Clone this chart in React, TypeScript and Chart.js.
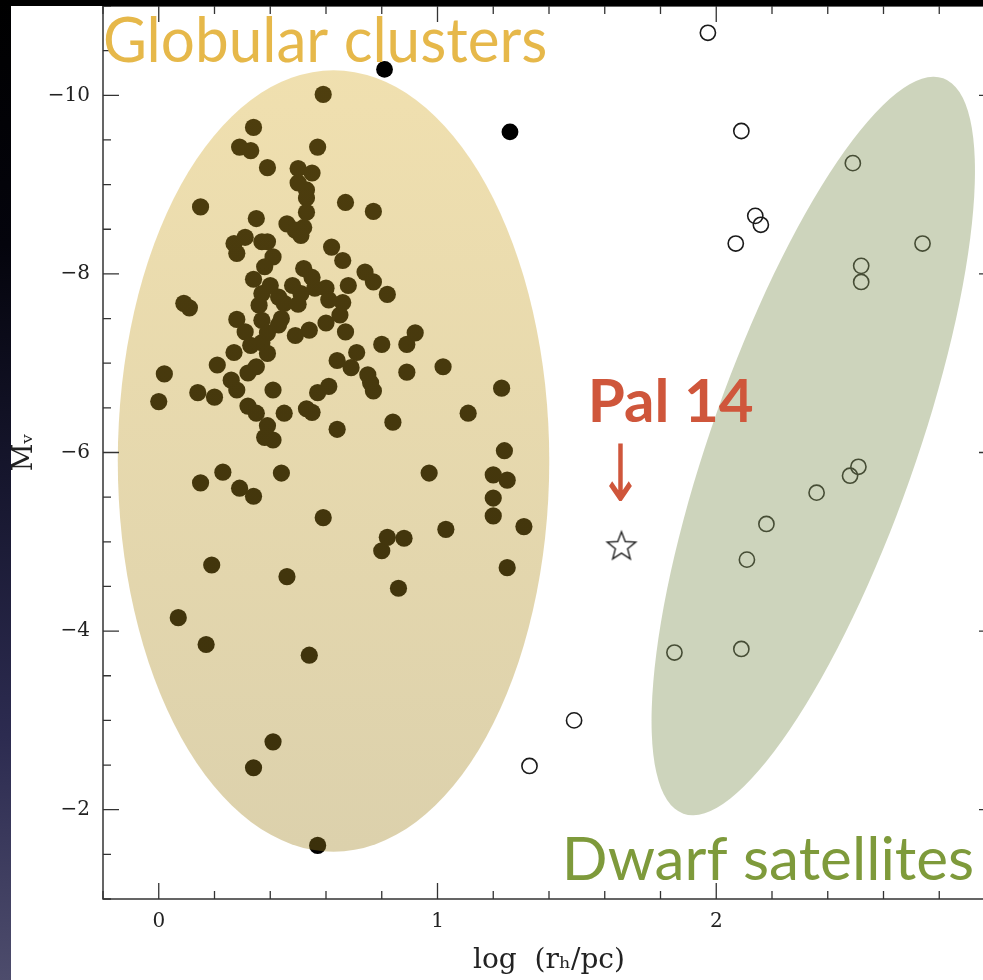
import React, { useEffect, useRef } from 'react';
import { Chart, registerables } from 'chart.js';

Chart.register(...registerables);

// ---------------- data ----------------
// Globular clusters (log r_h [pc], M_V)
const globularClusters: [number, number][] = [
  [0.59, -10.01], [0.34, -9.64], [0.29, -9.42], [0.33, -9.38], [0.57, -9.42],
  [0.39, -9.19], [0.50, -9.18], [0.55, -9.13], [0.50, -9.02], [0.53, -8.94],
  [0.53, -8.85], [0.53, -8.69], [0.15, -8.75], [0.67, -8.80], [0.77, -8.70],
  [0.35, -8.62], [0.46, -8.56], [0.49, -8.49], [0.52, -8.52], [0.51, -8.43],
  [0.27, -8.34], [0.31, -8.41], [0.28, -8.23], [0.37, -8.36], [0.39, -8.36],
  [0.41, -8.19], [0.38, -8.08], [0.62, -8.30], [0.66, -8.15], [0.34, -7.94],
  [0.52, -8.06], [0.55, -7.96], [0.74, -8.02], [0.77, -7.91], [0.82, -7.77],
  [0.40, -7.87], [0.37, -7.78], [0.43, -7.74], [0.48, -7.87], [0.51, -7.78],
  [0.56, -7.84], [0.60, -7.84], [0.68, -7.87], [0.45, -7.67], [0.09, -7.67],
  [0.11, -7.62], [0.36, -7.65], [0.66, -7.68], [0.61, -7.71], [0.50, -7.66],
  [0.28, -7.49], [0.37, -7.48], [0.44, -7.50], [0.43, -7.43], [0.60, -7.45],
  [0.65, -7.54], [0.54, -7.37],
  [0.31, -7.35], [0.39, -7.34], [0.49, -7.31], [0.67, -7.35], [0.33, -7.20],
  [0.37, -7.23], [0.39, -7.11], [0.27, -7.12], [0.71, -7.12], [0.21, -6.98],
  [0.35, -6.96], [0.32, -6.89], [0.02, -6.88], [0.26, -6.81], [0.28, -6.70],
  [0.14, -6.67], [0.20, -6.62], [0.00, -6.57], [0.41, -6.70], [0.32, -6.52],
  [0.35, -6.44], [0.45, -6.44], [0.39, -6.30], [0.38, -6.17], [0.41, -6.14],
  [0.53, -6.49], [0.55, -6.45], [0.57, -6.67], [0.61, -6.74], [0.64, -6.26],
  [0.64, -7.03], [0.69, -6.95], [0.75, -6.87], [0.76, -6.78], [0.77, -6.69],
  [0.80, -7.21], [0.89, -7.21], [0.92, -7.34], [0.89, -6.90], [1.02, -6.96],
  [0.84, -6.34], [1.11, -6.44], [1.23, -6.72], [1.24, -6.02],
  [1.20, -5.75], [1.25, -5.69], [1.20, -5.49], [1.20, -5.29], [1.31, -5.17],
  [1.25, -4.71], [1.03, -5.14], [0.97, -5.77], [0.82, -5.05], [0.88, -5.04],
  [0.80, -4.90], [0.86, -4.48], [0.59, -5.27], [0.44, -5.77], [0.23, -5.78],
  [0.15, -5.66], [0.29, -5.60], [0.34, -5.51], [0.19, -4.74], [0.46, -4.61],
  [0.07, -4.15], [0.17, -3.85], [0.54, -3.73], [0.41, -2.76], [0.34, -2.47],
  [0.57, -1.60],
];

// Two extended clusters outside the shaded region
const extendedClusters: [number, number][] = [
  [0.81, -10.29], [1.26, -9.59],
];

// Dwarf satellite galaxies (open circles)
const dwarfSatellites: [number, number][] = [
  [1.97, -10.70], [2.09, -9.60], [2.14, -8.65], [2.16, -8.55], [2.07, -8.34],
  [2.49, -9.24], [2.74, -8.34], [2.52, -8.09], [2.52, -7.91], [2.51, -5.84],
  [2.48, -5.74], [2.36, -5.55], [2.18, -5.20], [2.11, -4.80], [1.85, -3.76],
  [2.09, -3.80], [1.49, -3.00], [1.33, -2.49],
];

// Palomar 14
const pal14: [number, number][] = [[1.66, -4.95]];

const xTickLabels = [0, 1, 2];
const yTickLabels = [-10, -8, -6, -4, -2];
const X_MIN = -0.2, X_MAX = 3.0, X_MINOR = 0.2;
const Y_MIN = -11, Y_MAX = -1, Y_MINOR = 0.5;

// shaded regions, in data units
const gcRegion = { cx: 0.627, cy: -5.905, rx: 0.774, ry: 4.375 };
const dwarfRegion = { cx: 2.348, cy: -6.073, tipX: 2.814, tipY: -10.19, ratio: 0.262 };

// annotation texts (pixel boxes)
const annotations = [
  { text: 'Globular clusters', font: '58px Lato', color: '#E6B84A', x0: 105, x1: 545, y0: 16, y1: 62 },
  { text: 'Dwarf satellites', font: '58px Lato', color: '#7E9A3B', x0: 567, x1: 972, y0: 835, y1: 880 },
  { text: 'Pal 14', font: 'bold 58px Lato', color: '#CF563B', x0: 592, x1: 753, y0: 378, y1: 422 },
  { text: '\u2193', font: '60px "DejaVu Sans"', color: '#CF563B', x0: 609, x1: 633, y0: 443, y1: 502 },
];

const toPts = (arr: [number, number][]) => arr.map(([x, y]) => ({ x, y }));

function makeStar(): HTMLCanvasElement {
  const c = document.createElement('canvas');
  c.width = 36; c.height = 36;
  const g = c.getContext('2d')!;
  const R = 15, r = 6.4, cx = 18, cy = 18.5;
  g.beginPath();
  for (let i = 0; i < 10; i++) {
    const rad = i % 2 === 0 ? R : r;
    const a = -Math.PI / 2 + (i * Math.PI) / 5;
    const px = cx + rad * Math.cos(a), py = cy + rad * Math.sin(a);
    if (i === 0) g.moveTo(px, py); else g.lineTo(px, py);
  }
  g.closePath();
  g.lineWidth = 1.4;
  g.strokeStyle = '#222';
  g.lineJoin = 'miter';
  g.stroke();
  return c;
}

function fitText(ctx: CanvasRenderingContext2D, a: typeof annotations[number]) {
  ctx.save();
  ctx.font = a.font;
  ctx.textAlign = 'left';
  ctx.textBaseline = 'alphabetic';
  const m = ctx.measureText(a.text);
  const w = m.actualBoundingBoxLeft + m.actualBoundingBoxRight;
  const h = m.actualBoundingBoxAscent + m.actualBoundingBoxDescent;
  const sx = (a.x1 - a.x0) / w;
  const sy = (a.y1 - a.y0) / h;
  ctx.translate(a.x0, a.y0);
  ctx.scale(sx, sy);
  ctx.fillStyle = a.color;
  ctx.fillText(a.text, m.actualBoundingBoxLeft, m.actualBoundingBoxAscent);
  ctx.restore();
}

const decorPlugin = {
  id: 'decor',
  beforeDraw(chart: any) {
    const c = chart.ctx;
    c.save();
    c.fillStyle = '#ffffff';
    c.fillRect(0, 0, chart.width, chart.height);
    c.restore();
  },
  afterDatasetsDraw(chart: any) {
    const c = chart.ctx as CanvasRenderingContext2D;
    const xs = chart.scales.x, ys = chart.scales.y;
    // globular cluster region
    const cx = xs.getPixelForValue(gcRegion.cx);
    const cy = ys.getPixelForValue(gcRegion.cy);
    const rx = Math.abs(xs.getPixelForValue(gcRegion.cx + gcRegion.rx) - cx);
    const ry = Math.abs(ys.getPixelForValue(gcRegion.cy + gcRegion.ry) - cy);
    c.save();
    const grad = c.createLinearGradient(0, cy - ry, 0, cy + ry);
    grad.addColorStop(0, 'rgba(214,170,38,0.37)');
    grad.addColorStop(1, 'rgba(160,130,30,0.37)');
    c.fillStyle = grad;
    c.beginPath();
    c.ellipse(cx, cy, rx, ry, 0, 0, Math.PI * 2);
    c.fill();
    c.restore();
    // dwarf satellite region
    const dx0 = xs.getPixelForValue(dwarfRegion.cx);
    const dy0 = ys.getPixelForValue(dwarfRegion.cy);
    const tx = xs.getPixelForValue(dwarfRegion.tipX);
    const ty = ys.getPixelForValue(dwarfRegion.tipY);
    const A = Math.hypot(tx - dx0, ty - dy0);
    const B = A * dwarfRegion.ratio;
    const theta = Math.atan2(tx - dx0, -(ty - dy0));
    c.save();
    c.translate(dx0, dy0);
    c.rotate(theta);
    c.fillStyle = 'rgba(134,151,93,0.41)';
    c.beginPath();
    c.ellipse(0, 0, B, A, 0, 0, Math.PI * 2);
    c.fill();
    c.restore();
  },
  afterDraw(chart: any) {
    const c = chart.ctx as CanvasRenderingContext2D;
    const xs = chart.scales.x, ys = chart.scales.y;
    const { left, right, top, bottom } = chart.chartArea;
    c.save();
    c.strokeStyle = '#333';
    c.lineWidth = 1.5;
    c.strokeRect(left, top, right - left, bottom - top);
    c.lineWidth = 1.3;
    c.beginPath();
    const nx = Math.round((X_MAX - X_MIN) / X_MINOR);
    for (let i = 0; i <= nx; i++) {
      const v = X_MIN + i * X_MINOR;
      const major = Math.abs(v - Math.round(v)) < 1e-6;
      const len = major ? 16 : 8;
      const px = xs.getPixelForValue(v);
      c.moveTo(px, bottom); c.lineTo(px, bottom - len);
      c.moveTo(px, top); c.lineTo(px, top + len);
    }
    const ny = Math.round((Y_MAX - Y_MIN) / Y_MINOR);
    for (let i = 0; i <= ny; i++) {
      const v = Y_MIN + i * Y_MINOR;
      const major = Math.abs(v / 2 - Math.round(v / 2)) < 1e-6;
      const len = major ? 16 : 8;
      const py = ys.getPixelForValue(v);
      c.moveTo(left, py); c.lineTo(left + len, py);
      c.moveTo(right, py); c.lineTo(right - len, py);
    }
    c.stroke();
    c.restore();

    annotations.forEach((a) => fitText(c, a));

    // slide frame: black top bar and dark left strip
    c.save();
    c.fillStyle = '#000';
    c.fillRect(0, 0, chart.width, 6);
    const g = c.createLinearGradient(0, 0, 0, chart.height);
    g.addColorStop(0, '#000000');
    g.addColorStop(0.25, '#04040c');
    g.addColorStop(0.5, '#17172f');
    g.addColorStop(0.75, '#2c2b50');
    g.addColorStop(1, '#4d4c6c');
    c.fillStyle = g;
    c.fillRect(0, 0, 11, chart.height);
    c.restore();
  },
};

export default function App() {
  const ref = useRef<HTMLCanvasElement | null>(null);
  useEffect(() => {
    if (!ref.current) return;
    const star = makeStar();
    const serif = 'DejaVu Serif';
    const chart = new Chart(ref.current, {
      type: 'scatter',
      data: {
        datasets: [
          {
            label: 'Globular clusters',
            data: toPts(globularClusters),
            pointRadius: 8.6,
            pointBackgroundColor: '#000',
            pointBorderWidth: 0,
          },
          {
            label: 'Extended clusters',
            data: toPts(extendedClusters),
            pointRadius: 8.4,
            pointBackgroundColor: '#000',
            pointBorderWidth: 0,
          },
          {
            label: 'Dwarf satellites',
            data: toPts(dwarfSatellites),
            pointRadius: 7.6,
            pointBackgroundColor: 'rgba(0,0,0,0)',
            pointBorderColor: '#1a1a1a',
            pointBorderWidth: 1.6,
          },
          {
            label: 'Pal 14',
            data: toPts(pal14),
            pointStyle: star as any,
            pointRadius: 15,
          },
        ],
      },
      options: {
        animation: false,
        responsive: false,
        layout: { autoPadding: false, padding: { top: 6, right: 5, left: 0, bottom: 0 } },
        plugins: { legend: { display: false }, tooltip: { enabled: false } },
        scales: {
          x: {
            type: 'linear',
            min: X_MIN,
            max: X_MAX,
            grid: { display: false, drawTicks: false },
            border: { display: false },
            ticks: {
              font: { family: serif, size: 20 },
              color: '#222',
              padding: 11,
              maxRotation: 0,
              autoSkip: false,
            },
            afterBuildTicks: (s: any) => { s.ticks = xTickLabels.map((v) => ({ value: v })); },
            afterFit: (s: any) => {
              s.height = 81;
              s.paddingLeft = 0; s.paddingRight = 0; s.paddingTop = 0; s.paddingBottom = 0;
            },
            title: {
              display: true,
              text: 'log  (r\u2095/pc)',
              font: { family: serif, size: 28 },
              color: '#222',
              padding: { top: 0, bottom: 2 },
            },
          },
          y: {
            type: 'linear',
            reverse: true,
            min: Y_MIN,
            max: Y_MAX,
            grid: { display: false, drawTicks: false },
            border: { display: false },
            ticks: {
              font: { family: serif, size: 20 },
              color: '#222',
              padding: 13,
              callback: (v: any) => (v < 0 ? '\u2212' + Math.abs(v) : String(v)),
            },
            afterBuildTicks: (s: any) => { s.ticks = yTickLabels.map((v) => ({ value: v })); },
            afterFit: (s: any) => {
              s.width = 103;
              s.paddingLeft = 0; s.paddingRight = 0; s.paddingTop = 0; s.paddingBottom = 0;
            },
            title: {
              display: true,
              text: 'M\u1D65',
              font: { family: serif, size: 27 },
              color: '#222',
              padding: { top: 9, bottom: 0 },
            },
          },
        },
      },
      plugins: [decorPlugin],
    });
    return () => chart.destroy();
  }, []);

  return (
    <div
      style={{
        position: 'fixed',
        left: 0,
        top: 0,
        width: 983,
        height: 980,
        overflow: 'hidden',
        background: '#fff',
      }}
    >
      <canvas ref={ref} width={1000} height={980} style={{ display: 'block' }} />
    </div>
  );
}
